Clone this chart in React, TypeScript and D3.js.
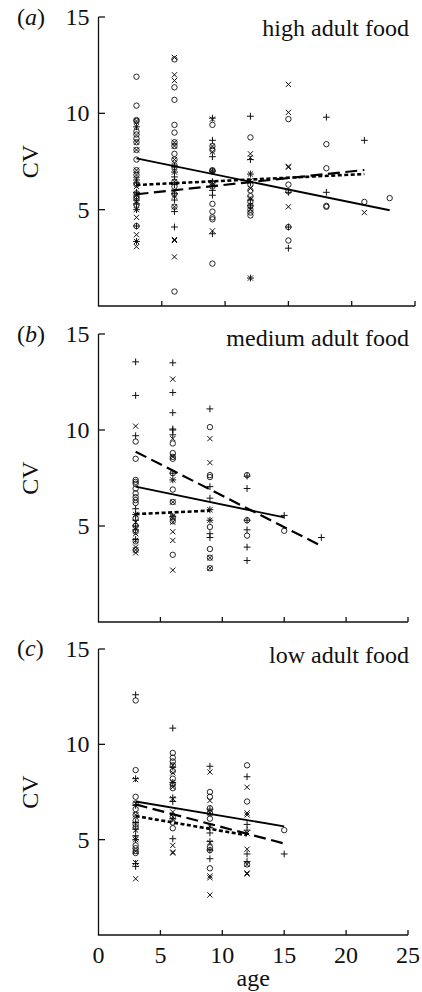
import { useRef, useEffect } from 'react';
import * as d3 from 'd3';

// each column: [age, CV values]
type Column = [number, number[]];
// fitted line: [age0, cv0, age1, cv1]
type Fit = [number, number, number, number];

const ageTicks = [0, 5, 10, 15, 20, 25];
const cvTicks = [5, 10, 15];

// (a) high adult food
const highCircles: Column[] = [
  [3, [11.9, 10.4, 9.65, 9.6, 9.05, 8.9, 8.7, 8.5, 8.1, 7.6, 7.05, 6.8, 6.3, 5.85, 5.7, 5.6, 5.25, 4.15]],
  [6, [12.8, 11.35, 10.7, 9.4, 9.0, 8.5, 8.3, 7.9, 7.6, 7.3, 7.2, 6.45, 6.2, 5.8, 5.15, 0.75]],
  [9, [9.4, 8.3, 8.1, 7.05, 7.0, 6.4, 6.2, 5.3, 4.9, 4.6, 4.5, 2.2]],
  [12, [8.75, 6.3, 6.0, 5.7, 5.4, 5.2, 5.0, 4.85, 4.7]],
  [15, [9.7, 6.3, 5.95, 4.1, 3.4]],
  [18, [8.4, 7.15, 5.2, 5.15]],
  [21, [5.4]],
  [23, [5.6]],
];
const highPlus: Column[] = [
  [3, [9.3, 6.54, 6.38, 5.9, 5.5, 5.3, 5.0, 4.15, 3.35]],
  [6, [7.25, 6.95, 6.7, 6.3, 5.85, 5.5, 4.9, 4.1]],
  [9, [9.75, 8.6, 7.75, 7.0, 6.45, 6.0, 5.75, 3.75]],
  [12, [9.85, 7.6, 6.85, 6.4, 5.5, 5.2, 1.45]],
  [15, [5.9, 4.1, 3.0]],
  [18, [9.8, 5.9]],
  [21, [8.6]],
];
const highCross: Column[] = [
  [3, [9.6, 9.3, 8.5, 8.1, 7.05, 6.8, 6.54, 6.2, 5.75, 5.35, 5.0, 4.6, 3.7, 3.35, 3.08]],
  [6, [12.9, 12.0, 11.7, 8.5, 8.3, 7.6, 6.95, 6.45, 5.7, 5.15, 3.45, 3.4, 2.55]],
  [9, [9.7, 8.3, 8.0, 7.0, 6.3, 3.9]],
  [12, [7.9, 7.7, 6.85, 6.5, 6.1, 5.6, 5.0, 1.45]],
  [15, [11.5, 10.05, 7.25, 7.2, 5.15]],
  [21, [4.85]],
];
const highFitCircles: Fit = [3, 7.66, 23, 4.97];
const highFitPlus: Fit = [3, 5.8, 21, 7.06];
const highFitCross: Fit = [3, 6.28, 21, 6.85];

// (b) medium adult food
const mediumCircles: Column[] = [
  [3, [9.4, 8.5, 7.4, 7.3, 7.2, 6.95, 6.7, 6.5, 6.35, 6.2, 5.4, 5.0, 4.7, 4.2, 3.75]],
  [6, [9.3, 8.8, 8.6, 8.5, 7.75, 6.9, 6.25, 5.45, 5.25, 3.5]],
  [9, [10.15, 7.65, 7.55, 4.95, 3.8, 3.35, 2.8]],
  [12, [7.65, 5.3, 4.5]],
  [15, [4.75]],
];
const mediumPlus: Column[] = [
  [3, [13.55, 11.8, 9.7, 5.9, 5.6, 5.3, 5.0, 4.8, 4.3]],
  [6, [13.5, 11.95, 10.9, 10.05, 10.0, 9.75, 7.75, 7.4, 5.5]],
  [9, [11.1, 7.05, 6.45, 5.85, 5.3, 4.6, 4.4]],
  [12, [7.6, 6.95, 5.3, 4.8, 3.9, 3.2]],
  [15, [5.55]],
  [18, [4.4]],
];
const mediumCross: Column[] = [
  [3, [10.2, 5.6, 5.2, 4.9, 4.6, 4.25, 3.9, 3.75, 3.6]],
  [6, [12.65, 9.55, 8.6, 7.4, 6.25, 5.5, 5.2, 4.7, 4.25, 2.7]],
  [9, [9.55, 8.3, 5.85, 5.3, 3.35, 2.8]],
];
const mediumFitCircles: Fit = [3, 7.05, 15, 5.45];
const mediumFitPlus: Fit = [3, 8.87, 18, 3.96];
const mediumFitCross: Fit = [3, 5.62, 9, 5.8];

// (c) low adult food
const lowCircles: Column[] = [
  [3, [12.3, 8.65, 7.25, 6.9, 6.6, 6.3, 6.0, 5.8, 5.65, 4.7, 4.55, 4.4, 4.3]],
  [6, [9.55, 9.3, 9.1, 8.9, 8.6, 8.2, 7.9, 7.7, 6.2, 5.9, 5.6]],
  [9, [7.5, 7.25, 6.65, 6.4, 6.1, 4.6, 4.45, 3.5]],
  [12, [8.9, 7.0, 3.7]],
  [15, [5.5]],
];
const lowPlus: Column[] = [
  [3, [12.6, 8.2, 6.8, 5.9, 5.55, 5.2, 5.0, 3.75, 3.6]],
  [6, [10.85, 8.8, 8.0, 7.2, 7.0, 6.1, 5.05]],
  [9, [8.85, 6.6, 5.65, 5.35, 4.9, 4.45, 4.0]],
  [12, [8.3, 5.8, 5.5, 4.25, 3.85]],
  [15, [4.25]],
];
const lowCross: Column[] = [
  [3, [8.15, 6.9, 6.3, 5.5, 5.1, 5.0, 4.4, 3.8, 2.95]],
  [6, [8.9, 8.5, 8.0, 7.75, 7.15, 6.45, 6.2, 4.7, 4.35, 4.3]],
  [9, [8.55, 7.05, 6.4, 5.7, 4.85, 3.1, 3.0, 2.1]],
  [12, [7.75, 6.4, 6.3, 5.35, 4.5, 3.7, 3.25, 3.2]],
];
const lowFitCircles: Fit = [3, 7.0, 15, 5.7];
const lowFitPlus: Fit = [3, 6.85, 15, 4.8];
const lowFitCross: Fit = [3, 6.24, 12, 5.23];

type Panel = {
  letter: string;
  title: string;
  circles: Column[];
  plus: Column[];
  cross: Column[];
  fits: [Fit, Fit, Fit];
  top: number;
  bottom: number;
  right: number;
  titleY: number;
  letterY: number;
  showAgeAxis: boolean;
};

const panels: Panel[] = [
  {
    letter: 'a', title: 'high adult food',
    circles: highCircles, plus: highPlus, cross: highCross,
    fits: [highFitCircles, highFitPlus, highFitCross],
    top: 17, bottom: 306, right: 415, titleY: 36, letterY: 25, showAgeAxis: false,
  },
  {
    letter: 'b', title: 'medium adult food',
    circles: mediumCircles, plus: mediumPlus, cross: mediumCross,
    fits: [mediumFitCircles, mediumFitPlus, mediumFitCross],
    top: 334, bottom: 622, right: 408, titleY: 346, letterY: 342, showAgeAxis: false,
  },
  {
    letter: 'c', title: 'low adult food',
    circles: lowCircles, plus: lowPlus, cross: lowCross,
    fits: [lowFitCircles, lowFitPlus, lowFitCross],
    top: 649, bottom: 935, right: 408, titleY: 663, letterY: 656, showAgeAxis: true,
  },
];

const W = 422;
const H = 992;
const LEFT = 98.5;
const FONT = '"Liberation Serif", "Times New Roman", serif';

const flatten = (cols: Column[]) =>
  cols.flatMap(([age, vals]) => vals.map((v) => ({ age, v })));

const App = () => {
  const svgRef = useRef(null);

  useEffect(() => {
    const svg = d3.select(svgRef.current);
    svg.selectAll('*').remove();

    panels.forEach((p) => {
      const x = d3.scaleLinear().domain([0, 25]).range([LEFT, p.right]);
      const y = d3.scaleLinear().domain([0, 15]).range([p.bottom, p.top]);
      const g = svg.append('g').attr('font-family', FONT).attr('fill', '#111');

      // axes
      g.append('line')
        .attr('x1', LEFT).attr('x2', LEFT)
        .attr('y1', y(15)).attr('y2', y(0))
        .attr('stroke', '#111').attr('stroke-width', 1.3);
      g.append('line')
        .attr('x1', LEFT - 0.6).attr('x2', p.right)
        .attr('y1', y(0)).attr('y2', y(0))
        .attr('stroke', '#111').attr('stroke-width', 1.3);

      cvTicks.forEach((t) => {
        g.append('line')
          .attr('x1', LEFT).attr('x2', LEFT + 6.5)
          .attr('y1', y(t)).attr('y2', y(t))
          .attr('stroke', '#111').attr('stroke-width', 1.3);
        g.append('text')
          .attr('x', LEFT - 9).attr('y', y(t) + 8)
          .attr('text-anchor', 'end').attr('font-size', 24)
          .text(t);
      });

      ageTicks.slice(1).forEach((t) => {
        g.append('line')
          .attr('x1', x(t)).attr('x2', x(t))
          .attr('y1', y(0)).attr('y2', y(0) - 5)
          .attr('stroke', '#111').attr('stroke-width', 1.3);
      });

      if (p.showAgeAxis) {
        ageTicks.forEach((t) => {
          g.append('text')
            .attr('x', x(t)).attr('y', y(0) + 28)
            .attr('text-anchor', 'middle').attr('font-size', 24)
            .text(t);
        });
        g.append('text')
          .attr('x', (LEFT + p.right) / 2).attr('y', y(0) + 51)
          .attr('text-anchor', 'middle').attr('font-size', 24)
          .text('age');
      }

      // CV label
      const midY = (y(0) + y(15)) / 2;
      g.append('text')
        .attr('transform', `translate(38, ${midY}) rotate(-90)`)
        .attr('text-anchor', 'middle').attr('font-size', 24)
        .text('CV');

      // panel letter
      const lt = g.append('text').attr('x', 17).attr('y', p.letterY).attr('font-size', 24);
      lt.append('tspan').text('(');
      lt.append('tspan').attr('font-style', 'italic').text(p.letter);
      lt.append('tspan').text(')');

      // title
      g.append('text')
        .attr('x', 409).attr('y', p.titleY)
        .attr('text-anchor', 'end').attr('font-size', 24)
        .text(p.title);

      // points
      g.selectAll('circle.o')
        .data(flatten(p.circles))
        .join('circle')
        .attr('cx', (d) => x(d.age)).attr('cy', (d) => y(d.v))
        .attr('r', 2.7)
        .attr('fill', 'none').attr('stroke', '#111').attr('stroke-width', 0.9);

      const ph = 3.4;
      g.selectAll('path.plus')
        .data(flatten(p.plus))
        .join('path')
        .attr('d', (d) => {
          const cx = x(d.age);
          const cy = y(d.v);
          return `M${cx - ph},${cy}H${cx + ph}M${cx},${cy - ph}V${cy + ph}`;
        })
        .attr('fill', 'none').attr('stroke', '#111').attr('stroke-width', 1);

      const xh = 2.6;
      g.selectAll('path.cross')
        .data(flatten(p.cross))
        .join('path')
        .attr('d', (d) => {
          const cx = x(d.age);
          const cy = y(d.v);
          return `M${cx - xh},${cy - xh}L${cx + xh},${cy + xh}M${cx - xh},${cy + xh}L${cx + xh},${cy - xh}`;
        })
        .attr('fill', 'none').attr('stroke', '#111').attr('stroke-width', 1);

      // fitted lines: solid = circles, dashed = plus, dotted = cross
      const styles = [
        { dash: null, width: 1.9 },
        { dash: '12,5.5', width: 2.2 },
        { dash: '4,2.5', width: 2.6 },
      ];
      p.fits.forEach((f, i) => {
        const line = g.append('line')
          .attr('x1', x(f[0])).attr('y1', y(f[1]))
          .attr('x2', x(f[2])).attr('y2', y(f[3]))
          .attr('stroke', '#000').attr('stroke-width', styles[i].width);
        if (styles[i].dash) line.attr('stroke-dasharray', styles[i].dash);
      });
    });
  }, []);

  return (
    <svg
      ref={svgRef}
      width={W}
      height={H}
      style={{ position: 'absolute', left: 0, top: 0, background: '#fff' }}
    />
  );
};

export default App;
